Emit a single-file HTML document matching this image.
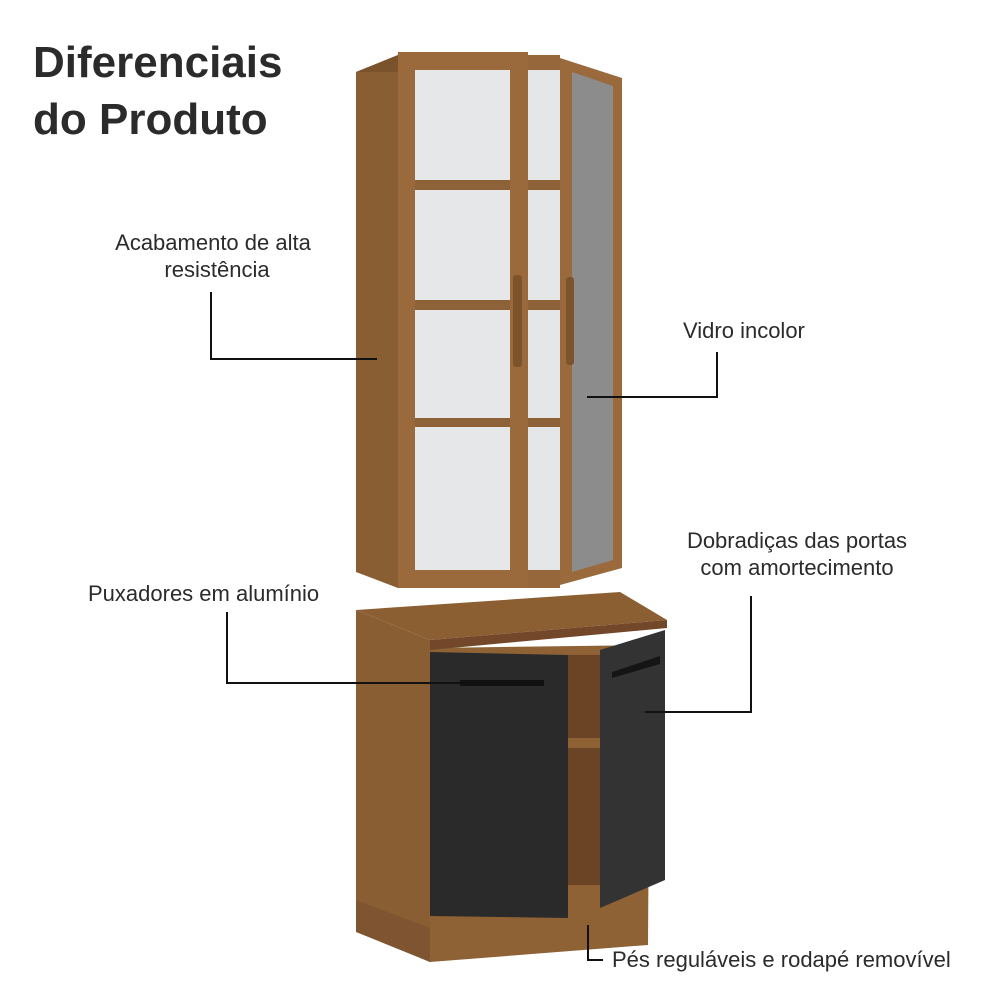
<!DOCTYPE html>
<html><head><meta charset="utf-8"><style>
body{margin:0;background:#fff;width:1000px;height:1000px;overflow:hidden}
svg{display:block}
text{font-family:"Liberation Sans",sans-serif;fill:#2b2b2b}
</style></head><body>
<svg width="1000" height="1000" viewBox="0 0 1000 1000">
<text x="33" y="77" font-size="44" font-weight="bold" fill="#262626">Diferenciais</text>
<text x="33" y="134" font-size="44" font-weight="bold" fill="#262626">do Produto</text>

<!-- upper cabinet -->
<polygon points="356,72 398,55 398,588 356,572" fill="#8a5e33"/>
<polygon points="356,72 398,55 560,55 560,72" fill="#7a532d"/>
<rect x="398" y="55" width="162" height="533" fill="#95673a"/>
<rect x="415" y="70" width="145" height="500" fill="#e4e6e8"/>
<rect x="415" y="180" width="145" height="10" fill="#8d6238"/>
<rect x="415" y="300" width="145" height="10" fill="#8d6238"/>
<rect x="415" y="418" width="145" height="9" fill="#8d6238"/>
<rect x="398" y="52" width="130" height="536" fill="#9a6a3c"/>
<rect x="415" y="70" width="95" height="500" fill="#e6e7e9"/>
<rect x="415" y="180" width="95" height="10" fill="#8d6238"/>
<rect x="415" y="300" width="95" height="10" fill="#8d6238"/>
<rect x="415" y="418" width="95" height="9" fill="#8d6238"/>
<rect x="513" y="275" width="9" height="92" rx="3" fill="#7d532c"/>
<polygon points="560,58 622,78 622,568 560,585" fill="#9a6a3c"/>
<polygon points="572,72 613,86 613,560 572,572" fill="#8c8c8c"/>
<rect x="566" y="277" width="8" height="88" rx="3" fill="#7d532c"/>

<!-- lower cabinet -->
<polygon points="356,610 430,640 430,962 356,930" fill="#8a5e33"/>
<polygon points="430,648 650,645 648,945 430,962" fill="#8f6235"/>
<polygon points="356,610 620,592 667,620 430,640" fill="#8c5f33"/>
<polygon points="430,640 667,620 667,628 430,650" fill="#73482a"/>
<polygon points="356,900 430,928 430,962 356,932" fill="#7e5530"/>
<rect x="568" y="655" width="35" height="230" fill="#6b4426"/>
<rect x="568" y="738" width="35" height="10" fill="#8f6235"/>
<polygon points="430,652 568,655 568,918 430,916" fill="#2a2a2a"/>
<rect x="460" y="680" width="84" height="6" fill="#111"/>
<polygon points="600,650 665,630 665,880 600,908" fill="#333"/>
<polygon points="612,672 660,656 660,664 612,678" fill="#151515"/>

<!-- callouts -->
<g stroke="#111" stroke-width="2" fill="none">
<polyline points="211,292 211,359 377,359"/>
<polyline points="717,352 717,397 587,397"/>
<polyline points="751,596 751,712 645,712"/>
<polyline points="227,612 227,683 460,683"/>
<polyline points="588,925 588,960 603,960"/>
</g>
<g font-size="22">
<text x="213" y="250" text-anchor="middle">Acabamento de alta</text>
<text x="217" y="277" text-anchor="middle">resistência</text>
<text x="683" y="338">Vidro incolor</text>
<text x="797" y="548" text-anchor="middle">Dobradiças das portas</text>
<text x="797" y="575" text-anchor="middle">com amortecimento</text>
<text x="88" y="601">Puxadores em alumínio</text>
<text x="612" y="967">Pés reguláveis e rodapé removível</text>
</g>
</svg>
</body></html>
